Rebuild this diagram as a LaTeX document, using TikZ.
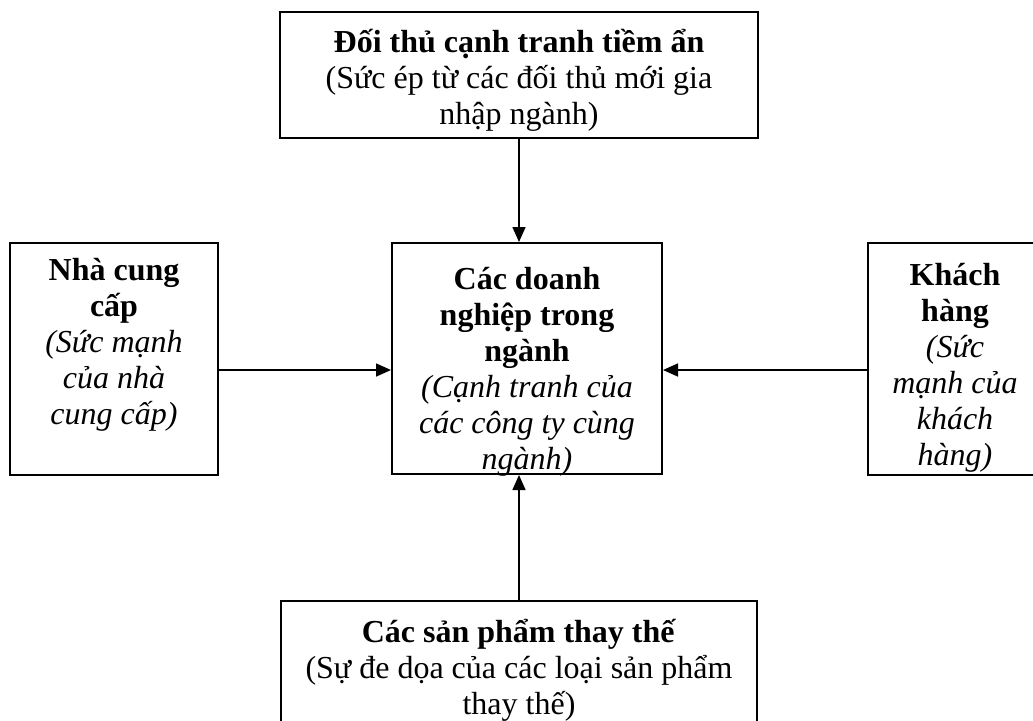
\documentclass[tikz,border=0pt]{standalone}
\usepackage{fontspec}
\setmainfont{Liberation Serif}
\usetikzlibrary{positioning,arrows.meta}
\begin{document}
\begin{tikzpicture}[x=0.5pt,y=-0.5pt,>={Triangle[length=7.5pt,width=6.5pt]},
    font=\fontsize{16}{18}\selectfont,
    box/.style={draw,line width=1pt,inner sep=0pt},
    txt/.style={align=center,inner sep=0pt,anchor=north},
    arr/.style={->,line width=0.8pt}]
    \clip (0,0) rectangle (1033,720);

    \node[box,minimum width=239pt,minimum height=63pt] (entrant) at (519,75) {};
    \node[box,minimum width=104pt,minimum height=116pt] (supplier) at (114,359) {};
    \node[box,minimum width=135pt,minimum height=115.5pt] (firms) at (527,358.5) {};
    \node[box,minimum width=87pt,minimum height=116pt] (buyer) at (955,359) {};
    \node[box,minimum width=238pt,minimum height=100pt] (substitute) at (519,701) {};

    \node[txt,below=9pt of entrant.north] (entranttxt) {\textbf{Đối thủ cạnh tranh tiềm ẩn}\\(Sức ép từ các đối thủ mới gia\\nhập ngành)};
    \node[txt,below=8pt of supplier.north] (suppliertxt) {\textbf{Nhà cung}\\\textbf{cấp}\\\textit{(Sức mạnh}\\\textit{của nhà}\\\textit{cung cấp)}};
    \begin{scope}
        \clip (firms.north west) rectangle (firms.south east);
        \node[txt,below=12.5pt of firms.north] (firmstxt) {\textbf{Các doanh}\\\textbf{nghiệp trong}\\\textbf{ngành}\\\textit{(Cạnh tranh của}\\\textit{các công ty cùng}\\\textit{ngành)}};
    \end{scope}
    \begin{scope}
        \clip (buyer.north west) rectangle (buyer.south east);
        \node[txt,below=10.5pt of buyer.north] (buyertxt) {\textbf{Khách}\\\textbf{hàng}\\\textit{(Sức}\\\textit{mạnh của}\\\textit{khách}\\\textit{hàng)}};
    \end{scope}
    \node[txt,below=9.5pt of substitute.north] (substitutetxt) {\textbf{Các sản phẩm thay thế}\\(Sự đe dọa của các loại sản phẩm\\thay thế)};

    \draw[arr] (entrant.south) -- (entrant.south |- firms.north);
    \draw[arr] (substitute.north) -- (substitute.north |- firms.south);
    \draw[arr] ([yshift=-5.5pt]supplier.east) -- ([yshift=-5.5pt]supplier.east -| firms.west);
    \draw[arr] ([yshift=-5.5pt]buyer.west) -- ([yshift=-5.5pt]buyer.west -| firms.east);
\end{tikzpicture}
\end{document}
